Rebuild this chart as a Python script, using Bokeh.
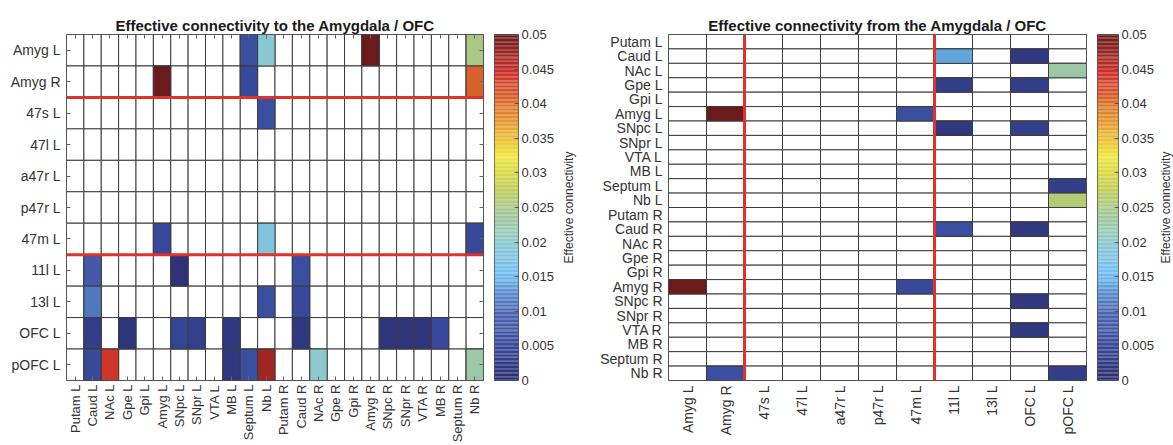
import math
from bokeh.plotting import figure
from bokeh.models import (FactorRange, Range1d, CategoricalAxis, LinearAxis,
                          FixedTicker, Span, ColumnDataSource)
from bokeh.transform import linear_cmap
from bokeh.layouts import row
from bokeh.embed import file_html
from bokeh.resources import INLINE

# ---------------- data ----------------
cortical = ["Amyg L", "Amyg R", "47s L", "47l L", "a47r L", "p47r L", "47m L",
            "11l L", "13l L", "OFC L", "pOFC L"]
subcortical = ["Putam L", "Caud L", "NAc L", "Gpe L", "Gpi L", "Amyg L", "SNpc L",
               "SNpr L", "VTA L", "MB L", "Septum L", "Nb L", "Putam R", "Caud R",
               "NAc R", "Gpe R", "Gpi R", "Amyg R", "SNpc R", "SNpr R", "VTA R",
               "MB R", "Septum R", "Nb R"]

# connectivity TO amygdala / OFC (row = target, col = source)
to_target = ["Amyg L", "Amyg L", "Amyg L", "Amyg L",
             "Amyg R", "Amyg R", "Amyg R",
             "47s L",
             "47m L", "47m L", "47m L",
             "11l L", "11l L", "11l L",
             "13l L", "13l L", "13l L",
             "OFC L", "OFC L", "OFC L", "OFC L", "OFC L", "OFC L", "OFC L", "OFC L", "OFC L", "OFC L",
             "pOFC L", "pOFC L", "pOFC L", "pOFC L", "pOFC L", "pOFC L", "pOFC L"]
to_source = ["Septum L", "Nb L", "Amyg R", "Nb R",
             "Amyg L", "Septum L", "Nb R",
             "Nb L",
             "Amyg L", "Nb L", "Nb R",
             "Caud L", "SNpc L", "Caud R",
             "Caud L", "Nb L", "Caud R",
             "Caud L", "Gpe L", "SNpc L", "SNpr L", "MB L", "Caud R", "SNpc R", "SNpr R", "VTA R", "MB R",
             "Caud L", "NAc L", "MB L", "Septum L", "Nb L", "NAc R", "Nb R"]
to_value = [0.0060, 0.0195, 0.0500, 0.0250,
            0.0500, 0.0050, 0.0410,
            0.0060,
            0.0050, 0.0180, 0.0050,
            0.0080, 0.0010, 0.0060,
            0.0110, 0.0060, 0.0050,
            0.0030, 0.0015, 0.0040, 0.0035, 0.0020, 0.0020, 0.0015, 0.0015, 0.0015, 0.0050,
            0.0050, 0.0440, 0.0020, 0.0060, 0.0470, 0.0200, 0.0230]

# connectivity FROM amygdala / OFC (row = target, col = source)
from_target = ["Caud L", "Caud L", "NAc L", "Gpe L", "Gpe L", "Amyg L", "Amyg L",
               "SNpc L", "SNpc L", "Septum L", "Nb L", "Caud R", "Caud R",
               "Amyg R", "Amyg R", "SNpc R", "VTA R", "Nb R", "Nb R"]
from_source = ["11l L", "OFC L", "pOFC L", "11l L", "OFC L", "Amyg R", "47m L",
               "11l L", "OFC L", "pOFC L", "pOFC L", "11l L", "OFC L",
               "Amyg L", "47m L", "OFC L", "OFC L", "Amyg R", "pOFC L"]
from_value = [0.0140, 0.0020, 0.0230, 0.0030, 0.0030, 0.0500, 0.0060,
              0.0020, 0.0030, 0.0030, 0.0260, 0.0060, 0.0020,
              0.0500, 0.0050, 0.0020, 0.0020, 0.0060, 0.0030]

cb_ticks = [0, 0.005, 0.01, 0.015, 0.02, 0.025, 0.03, 0.035, 0.04, 0.045, 0.05]
cb_labels = ["0", "0.005", "0.01", "0.015", "0.02", "0.025", "0.03", "0.035",
             "0.04", "0.045", "0.05"]
cb_title = "Effective connectivity"
v_low, v_high = 0.0, 0.05

# ---------------- styling ----------------
FONT = "Liberation Sans"
TXT = "#333333"
EDGE = "#3c3c3c"
RED = "#e0312a"

anchors = [(0.00, "#2b2d6e"), (0.10, "#384a9c"), (0.20, "#4b66b2"), (0.31, "#6fbff0"),
           (0.40, "#8dc9cf"), (0.50, "#a8c887"), (0.56, "#c6cf55"), (0.65, "#f0e43a"),
           (0.75, "#e59a30"), (0.82, "#d8622b"), (0.89, "#cf3029"), (1.00, "#6b1b1b")]


def _rgb(h):
    return tuple(int(h[i:i + 2], 16) for i in (1, 3, 5))


def make_palette(n=256):
    out = []
    for k in range(n):
        t = k / (n - 1)
        for (t0, c0), (t1, c1) in zip(anchors[:-1], anchors[1:]):
            if t0 <= t <= t1:
                f = (t - t0) / (t1 - t0)
                a, b = _rgb(c0), _rgb(c1)
                out.append("#%02x%02x%02x" % tuple(int(round(a[i] + (b[i] - a[i]) * f)) for i in range(3)))
                break
    return out


palette = make_palette()


def heatmap(title, xcats, ycats, xs, ys, vals, width, bl, br, bt, bb,
            xfont, xstand, yfont, ystand, ticks):
    p = figure(width=width, height=445, x_range=FactorRange(*xcats),
               y_range=FactorRange(*reversed(ycats)), output_backend="svg",
               toolbar_location=None, min_border_left=bl, min_border_right=br,
               min_border_top=bt, min_border_bottom=bb, title=title)
    p.title.align = "center"
    p.title.text_font = FONT
    p.title.text_font_size = "15px"
    p.title.text_font_style = "bold"
    p.title.text_color = "#1a1a1a"
    p.title.standoff = 2
    p.grid.visible = False
    p.outline_line_color = EDGE
    gx = [c for r in ycats for c in xcats]
    gy = [r for r in ycats for c in xcats]
    p.rect(x=gx, y=gy, width=1, height=1, fill_color="white", line_color=EDGE, line_width=1)
    src = ColumnDataSource(dict(x=xs, y=ys, v=vals))
    p.rect(x="x", y="y", width=1, height=1, source=src,
           fill_color=linear_cmap("v", palette, v_low, v_high), line_color=EDGE, line_width=1)
    for ax, size, stand in ((p.xaxis, xfont, xstand), (p.yaxis, yfont, ystand)):
        ax.major_label_text_font = FONT
        ax.major_label_text_font_size = size
        ax.major_label_text_color = TXT
        ax.major_label_standoff = stand
        ax.axis_line_color = None
        ax.major_tick_out = 0
        ax.major_tick_in = 4 if ticks else 0
        ax.major_tick_line_color = "#666666"
    p.xaxis.major_label_orientation = math.pi / 2
    if ticks:
        for side in ("above", "right"):
            a = CategoricalAxis(major_label_text_font_size="1px", major_label_text_color=None,
                                major_label_standoff=0,
                                axis_line_color=None, major_tick_out=0, major_tick_in=4,
                                major_tick_line_color="#666666")
            p.add_layout(a, side)
    return p


def colorbar(width, bl, br, bt, bb):
    c = figure(width=width, height=445, x_range=Range1d(0, 1), y_range=Range1d(v_low, v_high),
               output_backend="svg", toolbar_location=None, min_border_left=bl,
               min_border_right=br, min_border_top=bt, min_border_bottom=bb)
    n = len(palette)
    edges = [v_low + (v_high - v_low) * k / n for k in range(n + 1)]
    c.quad(left=0, right=1, bottom=edges[:-1], top=edges[1:], fill_color=palette, line_color=None)
    c.xaxis.visible = False
    c.yaxis.visible = False
    c.grid.visible = False
    c.outline_line_color = "#555555"
    ax = LinearAxis(ticker=FixedTicker(ticks=cb_ticks),
                    major_label_overrides={t: l for t, l in zip(cb_ticks, cb_labels)})
    ax.major_label_text_font = FONT
    ax.major_label_text_font_size = "13px"
    ax.major_label_text_color = TXT
    ax.major_label_standoff = 3
    ax.axis_line_color = None
    ax.major_tick_out = 0
    ax.major_tick_in = 4
    ax.major_tick_line_color = "#555555"
    c.add_layout(ax, "right")
    return c


def cb_label(width, bl, bt, bb):
    # narrow strip whose (left) axis carries the rotated colorbar title
    f = figure(width=width, height=445, x_range=Range1d(0, 1), y_range=Range1d(v_low, v_high),
               output_backend="svg", toolbar_location=None, min_border_left=bl,
               min_border_right=0, min_border_top=bt, min_border_bottom=bb)
    f.xaxis.visible = False
    f.grid.visible = False
    f.outline_line_color = None
    ax = f.yaxis[0]
    ax.ticker = FixedTicker(ticks=[])
    ax.major_label_standoff = 0
    ax.major_tick_in = 0
    ax.major_tick_out = 0
    ax.minor_tick_in = 0
    ax.minor_tick_out = 0
    ax.axis_line_color = None
    ax.axis_label = cb_title
    ax.axis_label_standoff = 1
    ax.axis_label_text_font = FONT
    ax.axis_label_text_font_size = "12px"
    ax.axis_label_text_font_style = "normal"
    ax.axis_label_text_color = TXT
    return f


p1 = heatmap("Effective connectivity to the Amygdala / OFC", subcortical, cortical,
             to_source, to_target, to_value, 485, 66, 2, 33, 63, "13px", 4, "14px", 6, True)
# red separators (between row groups)
nr = len(cortical)
for name in ("Amyg R", "47m L"):
    p1.add_layout(Span(location=nr - cortical.index(name) - 1, dimension="width",
                       line_color=RED, line_width=3))
cb1 = colorbar(73, 9, 40, 34, 63)
lb1 = cb_label(32, 15, 34, 63)

p2 = heatmap("Effective connectivity from the Amygdala / OFC", cortical, subcortical,
             from_source, from_target, from_value, 498, 78, 2, 28, 55, "14px", 5, "14px", 6, False)
for name in ("Amyg R", "47m L"):
    p2.add_layout(Span(location=cortical.index(name) + 1, dimension="height",
                       line_color=RED, line_width=3))
cb2 = colorbar(69, 9, 37, 29, 55)
lb2 = cb_label(16, 15, 29, 55)

layout = row(p1, cb1, lb1, p2, cb2, lb2)
open("out.html", "w").write(file_html(layout, INLINE))
